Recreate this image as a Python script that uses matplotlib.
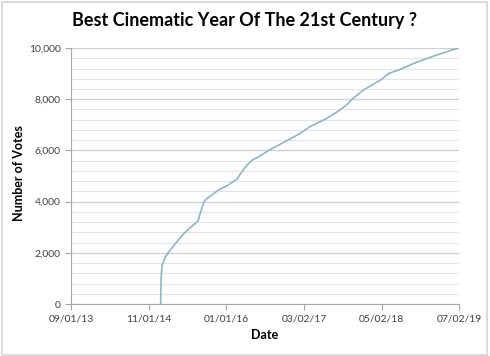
import pandas as pd
import matplotlib.pyplot as plt
import matplotlib.dates as mdates
from matplotlib.patches import Rectangle

# votes
dates = ["2015-01-06", "2015-01-07", "2015-01-09", "2015-01-14", "2015-02-02",
         "2015-02-20", "2015-03-20", "2015-05-14", "2015-06-20", "2015-07-30",
         "2015-08-13", "2015-09-01", "2015-09-19", "2015-11-20", "2016-01-05",
         "2016-02-29", "2016-03-18", "2016-04-20", "2016-05-21", "2016-06-26",
         "2016-08-20", "2016-11-20", "2017-02-08", "2017-04-04", "2017-07-05",
         "2017-09-16", "2017-10-22", "2017-11-28", "2018-01-22", "2018-04-27",
         "2018-06-11", "2018-08-14", "2018-10-26", "2019-02-13", "2019-06-22",
         "2019-07-02"]
votes = [0, 600, 1070, 1520, 1850,
         2040, 2300, 2760, 3000, 3250,
         3600, 4000, 4130, 4460, 4620,
         4880, 5080, 5400, 5620, 5750,
         6000, 6350, 6660, 6930, 7250,
         7580, 7780, 8040, 8360, 8750,
         9010, 9170, 9400, 9690, 9990,
         10000]
tickDates = ["2013-09-01", "2014-11-01", "2016-01-01", "2017-03-02", "2018-05-02", "2019-07-02"]

plt.rcParams["font.family"] = ["Lato", "DejaVu Sans"]

x = pd.to_datetime(dates)
ticks = pd.to_datetime(tickDates)

fig = plt.figure(figsize=(4.9, 3.56), dpi=100)
ax = fig.add_axes([0.145, 0.146, 0.792, 0.719])

fig.patches.append(Rectangle((0.004, 0.004), 0.99, 0.99, transform=fig.transFigure,
                             fill=False, edgecolor="#d4d4d4", linewidth=1.2))

ax.plot(x, votes, color="#86b8c8", linewidth=1.2)

ax.set_xlim(ticks[0], ticks[-1])
ax.set_ylim(0, 10000)
ax.set_xticks(ticks)
ax.xaxis.set_major_formatter(mdates.DateFormatter("%m/%d/%y"))
ax.set_yticks(range(0, 10001, 2000))
ax.set_yticks(range(0, 10001, 400), minor=True)
ax.yaxis.set_major_formatter(plt.FuncFormatter(lambda v, p: f"{int(v):,}"))

ax.grid(axis="y", which="major", color="#cfcfcf", linewidth=0.9)
ax.grid(axis="y", which="minor", color="#e4e4e4", linewidth=0.8)
ax.set_axisbelow(True)

for s in ["top", "right"]:
    ax.spines[s].set_visible(False)
ax.spines["left"].set_color("#a6a6a6")
ax.spines["bottom"].set_color("#a6a6a6")
ax.tick_params(axis="both", which="major", direction="out", length=4, color="#a6a6a6",
               labelsize=7.5, labelcolor="#404040")
ax.tick_params(axis="y", which="minor", length=0)

fig.suptitle("Best Cinematic Year Of The 21st Century ?", x=0.5, y=0.965,
             fontsize=13, fontweight="bold")
ax.set_xlabel("Date", fontsize=9, fontweight="bold", labelpad=4)
ax.set_ylabel("Number of Votes", fontsize=9, fontweight="bold")
ax.yaxis.set_label_coords(-0.118, 0.51)

fig.savefig("out.png", dpi=100)
